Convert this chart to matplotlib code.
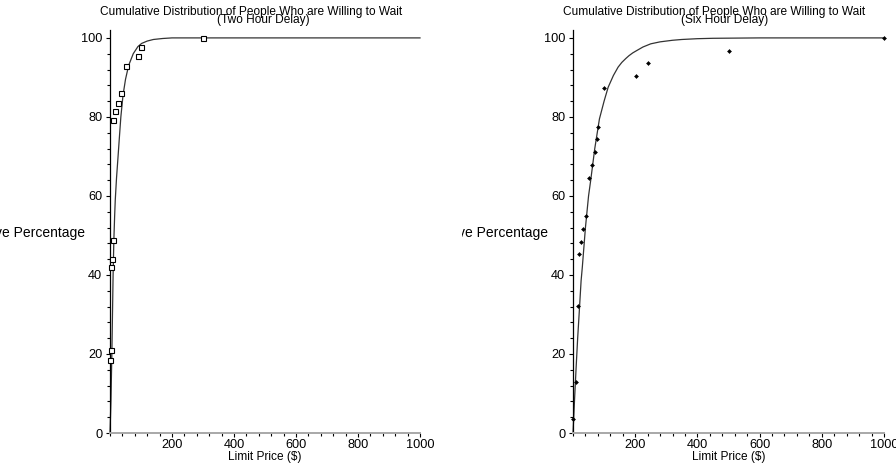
import matplotlib
matplotlib.use("Agg")
import matplotlib.pyplot as plt
from matplotlib.ticker import MultipleLocator, FixedLocator
from matplotlib.transforms import Bbox

plt.rcParams['font.family'] = ['Liberation Sans', 'DejaVu Sans']

# ---- data ----
two_x = [1, 2, 3, 6.5, 8.6, 9, 16, 25, 35, 50, 90, 100, 301]
two_y = [18.6, 20.9, 41.9, 44.1, 48.9, 79.1, 81.4, 83.6, 86.0, 92.9, 95.3, 97.6, 100]
two_fit_x = [0, 3, 6, 8, 10, 12.5, 15, 17, 21, 26, 30, 35, 42, 50, 60, 75, 90, 102, 120, 140, 170, 200, 300, 1000]
two_fit_y = [0, 8, 20, 30, 40, 49, 55, 59, 64.5, 70, 74.5, 80, 85.5, 89.5, 93, 96, 97.8, 98.6, 99.2, 99.6, 99.85, 100, 100, 100]

six_x = [1, 10, 15, 19.4, 27, 31, 40.7, 51.4, 61, 70, 76, 81.5, 100.7, 201.5, 240, 501.6, 1000]
six_y = [3.5, 12.8, 32.2, 45.2, 48.4, 51.6, 54.9, 64.6, 67.8, 71.1, 74.3, 77.5, 87.2, 90.4, 93.6, 96.8, 100]
six_fit_x = [0, 5, 10, 15, 20, 26, 30, 40, 50, 57, 70, 85, 100, 113, 130, 145, 157, 170, 180, 192, 205, 225, 250, 280, 320, 350, 400, 450, 600, 1000]
six_fit_y = [0, 8.5, 16.5, 24, 30.5, 38.5, 42, 52, 60, 64, 72, 79.5, 84, 87.5, 90.5, 92.6, 93.8, 94.8, 95.5, 96.2, 96.8, 97.7, 98.5, 99.0, 99.4, 99.6, 99.8, 99.9, 100, 100]

title_main = "Cumulative Distribution of People Who are Willing to Wait"
subtitles = ["(Two Hour Delay)", "(Six Hour Delay)"]
xlabel = "Limit Price ($)"
ylabel = "Cumulative Percentage"
xtick_vals = [200, 400, 600, 800, 1000]
ytick_vals = [0, 20, 40, 60, 80, 100]

W, H = 896, 466
fig = plt.figure(figsize=(W / 100, H / 100), dpi=100)

FS = 8.6
TFS = 9.2
YFS = 10.0

def px_rect(x0, x1, ytop, ybot):
    return [x0 / W, (H - ybot) / H, (x1 - x0) / W, (ybot - ytop) / H]

ax1 = fig.add_axes(px_rect(110, 420, 30, 433))
ax2 = fig.add_axes(px_rect(573, 884, 30, 433))

for ax in (ax1, ax2):
    ax.set_xlim(0, 1000)
    ax.set_ylim(0, 102)
    ax.spines['top'].set_visible(False)
    ax.spines['right'].set_visible(False)
    ax.spines['left'].set_linewidth(0.9)
    ax.spines['left'].set_color('black')
    ax.spines['bottom'].set_linewidth(1.4)
    ax.spines['bottom'].set_color('#a8a8a8')
    ax.xaxis.set_major_locator(FixedLocator(xtick_vals))
    ax.xaxis.set_minor_locator(MultipleLocator(40))
    ax.yaxis.set_major_locator(FixedLocator(ytick_vals))
    ax.yaxis.set_minor_locator(MultipleLocator(4))
    ax.tick_params(axis='both', which='major', direction='out', length=3, width=0.8,
                   labelsize=TFS, color='black')
    ax.tick_params(axis='both', which='minor', direction='out', length=2, width=0.8,
                   color='black')
    ax.tick_params(axis='x', which='major', pad=1.2)
    ax.tick_params(axis='y', which='major', pad=2.5)
    ax.set_xlabel(xlabel, fontsize=FS, labelpad=0.3)

ax1.plot(two_fit_x, two_fit_y, color='#333333', lw=0.9, clip_on=False, zorder=2)
ax1.plot(two_x, two_y, ls='none', marker='s', ms=3.6, mfc='white', mec='black',
         mew=0.8, clip_on=False, zorder=3)

ax2.plot(six_fit_x, six_fit_y, color='#333333', lw=0.9, clip_on=False, zorder=2)
ax2.plot(six_x, six_y, ls='none', marker='D', ms=2.0, mfc='black', mec='black',
         mew=0.4, clip_on=False, zorder=3)

def fx(px):
    return px / W

def fy(py):
    return 1 - py / H

# titles
fig.text(fx(251), fy(12), title_main, ha='center', va='center', fontsize=FS)
fig.text(fx(263), fy(20), subtitles[0], ha='center', va='center', fontsize=FS)
fig.text(fx(714), fy(12), title_main, ha='center', va='center', fontsize=FS)
fig.text(fx(725), fy(20), subtitles[1], ha='center', va='center', fontsize=FS)

# clipped horizontal y labels
fig.text(fx(85), fy(233), ylabel, ha='right', va='center', fontsize=YFS)
t2 = fig.text(fx(548), fy(233), ylabel, ha='right', va='center', fontsize=YFS)
t2.set_clip_box(Bbox.from_extents(462, 0, W, H))
t2.set_clip_on(True)

fig.savefig("out.png", dpi=100)
